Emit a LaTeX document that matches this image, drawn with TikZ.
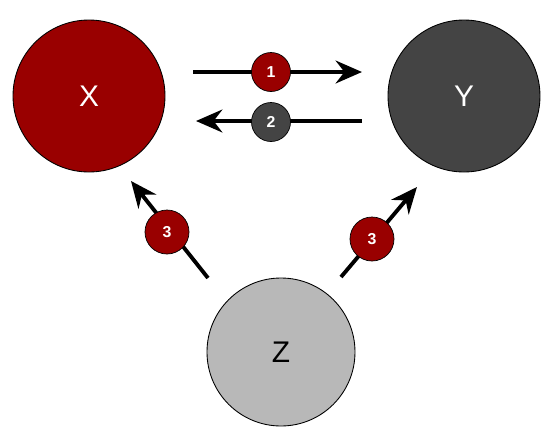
\documentclass[tikz,border=0pt]{standalone}
\usepackage{fontspec}
\setmainfont{Liberation Sans}
\usepackage{tikz}
\usetikzlibrary{arrows.meta}

\definecolor{darkred}{HTML}{990000}
\definecolor{darkgrey}{HTML}{444444}
\definecolor{lightgrey}{HTML}{B8B8B8}

\tikzset{
    bigball/.style={circle, draw=black, line width=0.5pt, minimum size=152*0.02cm, inner sep=0pt, font=\fontsize{17}{19}\selectfont},
    badge/.style={circle, draw=black, line width=0.4pt, inner sep=0pt, text=white, font=\bfseries\fontsize{9}{10}\selectfont},
    flow/.style={line width=2.2pt, -{Stealth[length=15pt, width=13pt, inset=5pt]}}
}

\begin{document}
\begin{tikzpicture}[x=0.02cm, y=-0.02cm]
    \useasboundingbox (0,0) rectangle (559,444);

    % The three balls
    \node[bigball, fill=darkred, text=white] (X) at (89,96) {X};
    \node[bigball, fill=darkgrey, text=white] (Y) at (464,96) {Y};
    \node[bigball, fill=lightgrey, minimum size=148*0.02cm] (Z) at (281,352) {Z};

    % Arrow ends
    \coordinate (a1) at (193,72);
    \coordinate (b1) at (362,72);
    \coordinate (a2) at (362,121);
    \coordinate (b2) at (196,121);
    \coordinate (a3) at (208,278);
    \coordinate (b3) at (131,181);
    \coordinate (a4) at (341,277);
    \coordinate (b4) at (417,187);

    \draw[flow] (a1) -- (b1);
    \draw[flow] (a2) -- (b2);
    \draw[flow] (a3) -- (b3);
    \draw[flow] (a4) -- (b4);

    % Badges on the arrows
    \node[badge, fill=darkred, minimum size=39*0.02cm] (n1) at (271,72) {1};
    \node[badge, fill=darkgrey, minimum size=39*0.02cm] (n2) at (271,122) {2};
    \node[badge, fill=darkred, minimum size=44*0.02cm] (n3) at (167,232) {3};
    \node[badge, fill=darkred, minimum size=44*0.02cm] (n4) at (372,239) {3};
\end{tikzpicture}
\end{document}
